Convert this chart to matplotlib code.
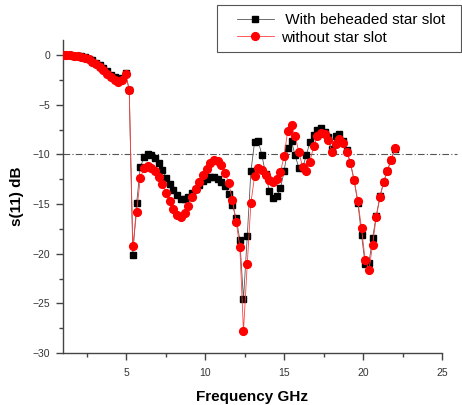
import matplotlib
matplotlib.use("Agg")
import matplotlib.pyplot as plt
from matplotlib.patches import Rectangle
from matplotlib.ticker import MultipleLocator

plt.rcParams['font.family'] = ['Liberation Sans', 'DejaVu Sans']

# frequency sweep, GHz (91 points, 1 - 22 GHz)
freq = [1.00, 1.23, 1.47, 1.70, 1.93, 2.17, 2.40, 2.63, 2.87, 3.10,
        3.33, 3.57, 3.80, 4.03, 4.27, 4.50, 4.73, 4.97, 5.20, 5.43,
        5.67, 5.90, 6.13, 6.37, 6.60, 6.83, 7.07, 7.30, 7.53, 7.77,
        8.00, 8.23, 8.47, 8.70, 8.93, 9.17, 9.40, 9.63, 9.87, 10.10,
        10.33, 10.57, 10.80, 11.03, 11.27, 11.50, 11.73, 11.97, 12.20, 12.43,
        12.67, 12.90, 13.13, 13.37, 13.60, 13.83, 14.07, 14.30, 14.53, 14.77,
        15.00, 15.23, 15.47, 15.70, 15.93, 16.17, 16.40, 16.63, 16.87, 17.10,
        17.33, 17.57, 17.80, 18.03, 18.27, 18.50, 18.73, 18.97, 19.20, 19.43,
        19.67, 19.90, 20.13, 20.37, 20.60, 20.83, 21.07, 21.30, 21.53, 21.77,
        22.00]

# S11 with beheaded star slot, dB
s11_star = [0.00, -0.01, -0.03, -0.06, -0.10, -0.15, -0.23, -0.36, -0.55, -0.78,
            -1.02, -1.33, -1.65, -1.97, -2.25, -2.40, -2.30, -1.85, -3.50, -20.1,
            -14.9, -11.3, -10.3, -10.0, -10.1, -10.4, -10.9, -11.6, -12.35, -13.0,
            -13.6, -14.1, -14.45, -14.5, -14.25, -13.85, -13.45, -13.05, -12.7, -12.45,
            -12.3, -12.3, -12.5, -12.75, -13.2, -14.0, -15.1, -16.45, -18.6, -24.6,
            -18.2, -11.7, -8.8, -8.7, -10.1, -12.0, -13.7, -14.4, -14.2, -13.4,
            -11.7, -9.4, -8.7, -10.1, -11.35, -11.4, -10.1, -8.8, -8.0, -7.5,
            -7.35, -7.7, -8.3, -9.5, -8.15, -7.96, -8.7, -9.6, -10.9, -12.6,
            -14.9, -18.1, -21.05, -20.9, -18.4, -16.2, -14.2, -12.8, -11.65, -10.57,
            -9.47]

# S11 without star slot, dB
s11_plain = [0.00, -0.02, -0.05, -0.08, -0.13, -0.20, -0.30, -0.45, -0.70, -0.95,
             -1.20, -1.55, -1.90, -2.25, -2.55, -2.75, -2.55, -1.90, -3.50, -19.2,
             -15.8, -12.4, -11.4, -11.2, -11.35, -11.7, -12.25, -12.95, -13.85, -14.65,
             -15.5, -16.05, -16.25, -15.85, -15.15, -14.3, -13.5, -12.75, -12.1, -11.45,
             -10.9, -10.6, -10.7, -11.1, -11.9, -12.9, -14.6, -16.8, -19.3, -27.8,
             -21.0, -14.9, -12.2, -11.4, -11.6, -12.1, -12.6, -12.75, -12.5, -11.75,
             -10.2, -7.6, -7.05, -8.15, -9.74, -11.25, -11.65, -10.74, -9.2, -8.2,
             -7.8, -7.9, -8.6, -9.8, -9.0, -8.5, -8.9, -9.8, -10.9, -12.6,
             -14.7, -17.45, -20.6, -21.65, -19.1, -16.3, -14.3, -12.75, -11.65, -10.57,
             -9.4]

labels = [' With beheaded star slot', 'without star slot']
threshold = -10

fig = plt.figure(figsize=(4.62, 4.05), dpi=100)
ax = fig.add_axes([0.136, 0.128, 0.821, 0.773])

ax.plot(freq, s11_star, color='#555555', lw=0.6, marker='s', ms=4.5,
        mfc='black', mec='black', label=labels[0], zorder=3)
ax.plot(freq, s11_plain, color='#ff4040', lw=0.6, marker='o', ms=5.6,
        mfc='red', mec='red', label=labels[1], zorder=4)

ax.axhline(threshold, xmin=0, xmax=1.04, color='#555555', lw=0.8,
           ls=(0, (6, 2, 1, 2)), clip_on=False, zorder=2)

ax.set_xlim(1, 25)
ax.set_ylim(-30, 1.5)
ax.xaxis.set_major_locator(MultipleLocator(5))
ax.xaxis.set_minor_locator(MultipleLocator(2.5))
ax.yaxis.set_major_locator(MultipleLocator(5))
ax.yaxis.set_minor_locator(MultipleLocator(2.5))

for side in ['top', 'right']:
    ax.spines[side].set_visible(False)
for side in ['left', 'bottom']:
    ax.spines[side].set_color('#444444')
    ax.spines[side].set_linewidth(1.0)

ax.tick_params(which='both', direction='out', colors='#444444', labelcolor='#333333')
ax.tick_params(which='major', length=5, width=1.0, labelsize=7.5)
ax.tick_params(which='minor', length=3, width=1.0)
ax.tick_params(axis='x', which='major', pad=6)
ax.tick_params(axis='y', which='major', pad=4)

ax.set_xlabel('Frequency GHz', fontsize=11, fontweight='bold', labelpad=8)
ax.set_ylabel('s(11) dB', fontsize=11, fontweight='bold', labelpad=6)

# legend box drawn separately so it can be wider than its content
fig.patches.append(Rectangle((217 / 462, 1 - 52 / 405), 244 / 462, 47 / 405,
                             transform=fig.transFigure, fill=False,
                             ec='#555555', lw=0.8, zorder=5))
fig.legend(loc='upper left', bbox_to_anchor=(237 / 462, 1 - 13 / 405), fontsize=11,
           frameon=False, handlelength=2.4, handletextpad=0.5,
           labelspacing=0.25, borderpad=0, borderaxespad=0)

fig.savefig('out.png', dpi=100)
